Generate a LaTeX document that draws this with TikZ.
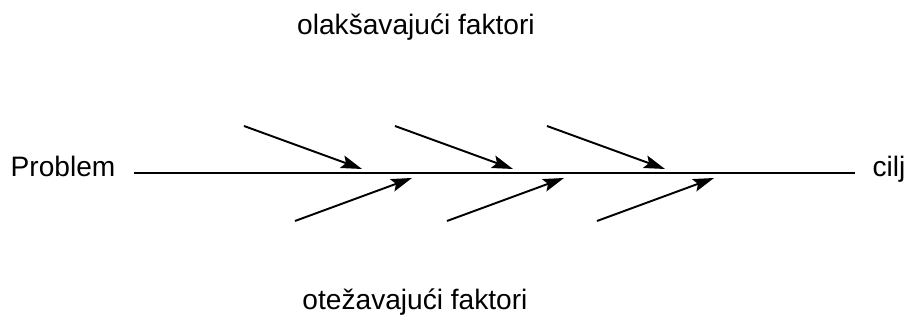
\documentclass[tikz,border=0pt]{standalone}
\usepackage{fontspec}
\setmainfont{Liberation Sans}
\usetikzlibrary{arrows.meta}
\tikzset{
  >={Stealth[length=4.2mm,width=2.6mm,inset=0.8mm]},
  lbl/.style={anchor=base,inner sep=0pt,font=\fontsize{16}{19}\selectfont},
  bone/.style={line width=1.1pt},
}
\begin{document}
\begin{tikzpicture}
\useasboundingbox (0,0) rectangle (18.2,6.44);
\node[lbl] (prob) at (1.26,2.9){Problem}; \node[lbl] (cilj) at (17.78,2.9){cilj};
\node[lbl] (olak) at (8.32,5.74){olakšavajući faktori};
\node[lbl] (otez) at (8.3,0.24){otežavajući faktori};
% main line
\coordinate (tail) at (2.68,2.98); \coordinate (head) at (17.1,2.98);
\draw[bone] (tail)--(head);
% upper and lower arrows
\foreach \i/\x in {1/4.88,2/7.90,3/10.94}{
  \coordinate (u\i) at (\x,3.92); \coordinate (ut\i) at (\x+2.36,3.06);
  \draw[bone,->] (u\i)--(ut\i);
}
\foreach \i/\x in {1/5.90,2/8.94,3/11.94}{
  \coordinate (d\i) at (\x,2.02); \coordinate (dt\i) at (\x+2.34,2.88);
  \draw[bone,->] (d\i)--(dt\i);
}
\end{tikzpicture}
\end{document}
